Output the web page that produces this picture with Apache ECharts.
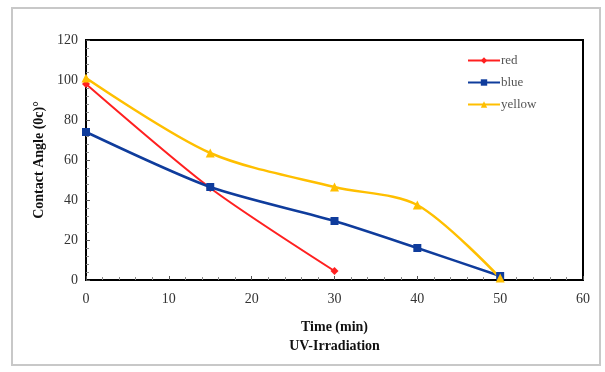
<!DOCTYPE html>
<html><head><meta charset="utf-8">
<script src="https://cdn.jsdelivr.net/npm/echarts@6/dist/echarts.min.js"></script>
<style>html,body{margin:0;padding:0;background:#fff}#c{width:605px;height:372px}</style>
</head><body><div id="c"></div>
<script>
const redData = [[0, 98], [15, 46], [30, 4.5]];
const blueData = [[0, 74], [15, 46.5], [30, 29.5], [40, 16], [50, 2]];
const yellowData = [[0, 101], [15, 63.5], [30, 46.5], [40, 37.5], [50, 1]];
const seriesNames = ['red', 'blue', 'yellow'];
const xTitle = 'Time (min)\nUV-Irradiation';
const yTitle = 'Contact Angle (0c)°';

const chart = echarts.init(document.getElementById('c'));
const font = 'Liberation Serif, Times New Roman, serif';
chart.setOption({
  animation: false,
  graphic: [{type: 'rect', shape: {x: 12, y: 8, width: 588, height: 357}, style: {fill: 'none', stroke: '#c8c8c8', lineWidth: 2}, z: -1}],
  grid: {left: 86, right: 22, top: 40, bottom: 92, show: true, borderColor: '#000', borderWidth: 2, backgroundColor: 'transparent'},
  legend: {
    orient: 'vertical', left: 462, top: 49, itemGap: 9, itemWidth: 32, itemHeight: 8,
    textStyle: {fontFamily: font, fontSize: 13, color: '#555', padding: [0, 0, 0, -4]},
    data: seriesNames
  },
  xAxis: {
    type: 'value', min: 0, max: 60, interval: 10,
    name: xTitle, nameLocation: 'middle', nameGap: 38,
    nameTextStyle: {fontFamily: font, fontSize: 14, fontWeight: 'bold', color: '#111', lineHeight: 19},
    axisLine: {lineStyle: {color: '#000', width: 2}},
    axisTick: {inside: true, length: 4, lineStyle: {color: '#555'}},
    minorTick: {show: true, splitNumber: 5, length: 3, lineStyle: {color: '#888'}},
    axisLabel: {fontFamily: font, fontSize: 14, color: '#333', margin: 12},
    splitLine: {show: false}
  },
  yAxis: {
    type: 'value', min: 0, max: 120, interval: 20,
    name: yTitle, nameLocation: 'middle', nameGap: 40, nameRotate: 90,
    nameTextStyle: {fontFamily: font, fontSize: 14, fontWeight: 'bold', color: '#111'},
    axisLine: {lineStyle: {color: '#000', width: 2}},
    axisTick: {inside: true, length: 4, lineStyle: {color: '#555'}},
    minorTick: {show: true, splitNumber: 5, length: 3, lineStyle: {color: '#888'}},
    axisLabel: {fontFamily: font, fontSize: 14, color: '#333', margin: 8},
    splitLine: {show: false}
  },
  series: [
    {name: 'red', type: 'line', data: redData, smooth: 0.25, symbol: 'diamond', symbolSize: 8,
     lineStyle: {color: '#ff2020', width: 2}, itemStyle: {color: '#ff2020'}},
    {name: 'blue', type: 'line', data: blueData, smooth: 0.25, symbol: 'rect', symbolSize: 8,
     lineStyle: {color: '#0f3c9c', width: 2.5}, itemStyle: {color: '#0f3c9c'}},
    {name: 'yellow', type: 'line', data: yellowData, smooth: 0.3, symbol: 'triangle', symbolSize: 9,
     lineStyle: {color: '#ffbf00', width: 2.5}, itemStyle: {color: '#ffbf00'}}
  ]
});
</script></body></html>
